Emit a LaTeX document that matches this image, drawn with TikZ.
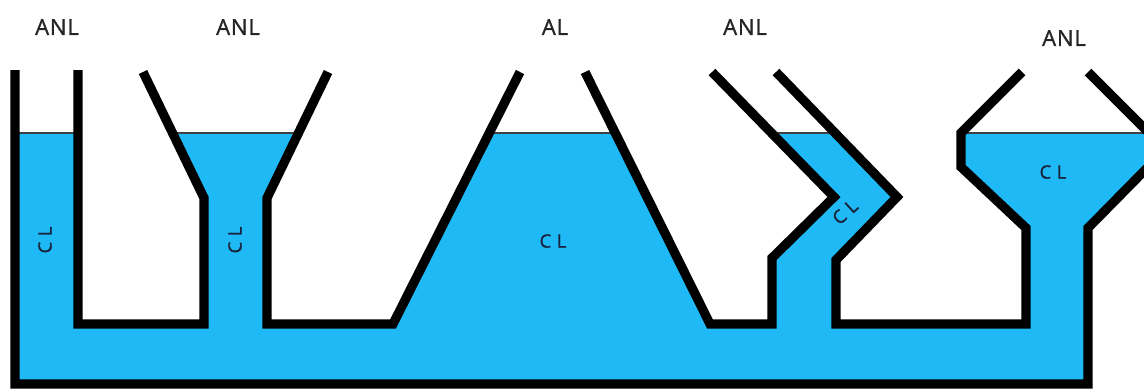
\documentclass[tikz,border=0pt]{standalone}
\usepackage{fontspec}
\newfontfamily\labelfont[LetterSpace=4,FakeBold=1.2]{Open Sans}
\definecolor{water}{RGB}{31,185,246}
\definecolor{ink}{RGB}{25,35,60}
\begin{document}
\begin{tikzpicture}[x=0.02cm,y=-0.02cm,
  wall/.style={line width=0.185cm, line join=miter, line cap=butt},
  surface/.style={line width=0.035cm, draw=black!75},
  lbl/.style={font=\labelfont\fontsize{12.5}{14}\selectfont, text=black!85},
  cl/.style={font=\labelfont\fontsize{10.5}{12}\selectfont, text=ink}]
\useasboundingbox (0,0) rectangle (1144,389);
\begin{scope}
\clip (0,0) rectangle (1144,389);
% water
\fill[water] (15,133) -- (78,133) -- (78,324) -- (204,324) -- (204,198) -- (172.5,133)
  -- (298.5,133) -- (267,198) -- (267,324) -- (393,324) -- (489,133)
  -- (615,133) -- (710,324) -- (772,324) -- (772,258) -- (834,197) -- (771.5,133)
  -- (835,133) -- (897,197) -- (836,260) -- (836,324) -- (1026,324) -- (1026,228)
  -- (961,167) -- (961,133) -- (1150,133) -- (1150,165) -- (1088,228) -- (1088,384)
  -- (15,384) -- cycle;
% water surfaces
\draw[surface] (15,133) -- (78,133);
\draw[surface] (172.5,133) -- (298.5,133);
\draw[surface] (489,133) -- (615,133);
\draw[surface] (771.5,133) -- (835,133);
\draw[surface] (961,133) -- (1150,133);
% walls
\draw[wall] (15,70) -- (15,384) -- (1088,384) -- (1088,228) -- (1150,165);
\draw[wall] (78,70) -- (78,324) -- (204,324) -- (204,198) -- (143,72);
\draw[wall] (328,72) -- (267,198) -- (267,324) -- (393,324) -- (520,72);
\draw[wall] (585,72) -- (710,324) -- (772,324) -- (772,258) -- (834,197) -- (712,72);
\draw[wall] (776,72) -- (897,197) -- (836,260) -- (836,324) -- (1026,324) -- (1026,228)
  -- (961,167) -- (961,133) -- (1022,72);
\draw[wall] (1088,72) -- (1152,136);
\end{scope}
% labels
\node[lbl] (t1) at (57,27) {ANL};
\node[lbl] (t2) at (238,27) {ANL};
\node[lbl] (t3) at (555,27) {AL};
\node[lbl] (t4) at (745,27) {ANL};
\node[lbl] (t5) at (1064,38) {ANL};
\node[cl, rotate=90] (c1) at (45,240) {C L};
\node[cl, rotate=90] (c2) at (235,240) {C L};
\node[cl] (c3) at (553,241) {C L};
\node[cl, rotate=42, inner sep=0pt] (c4) at (845,212) {C L};
\node[cl] (c5) at (1053,172) {C L};
\end{tikzpicture}
\end{document}
